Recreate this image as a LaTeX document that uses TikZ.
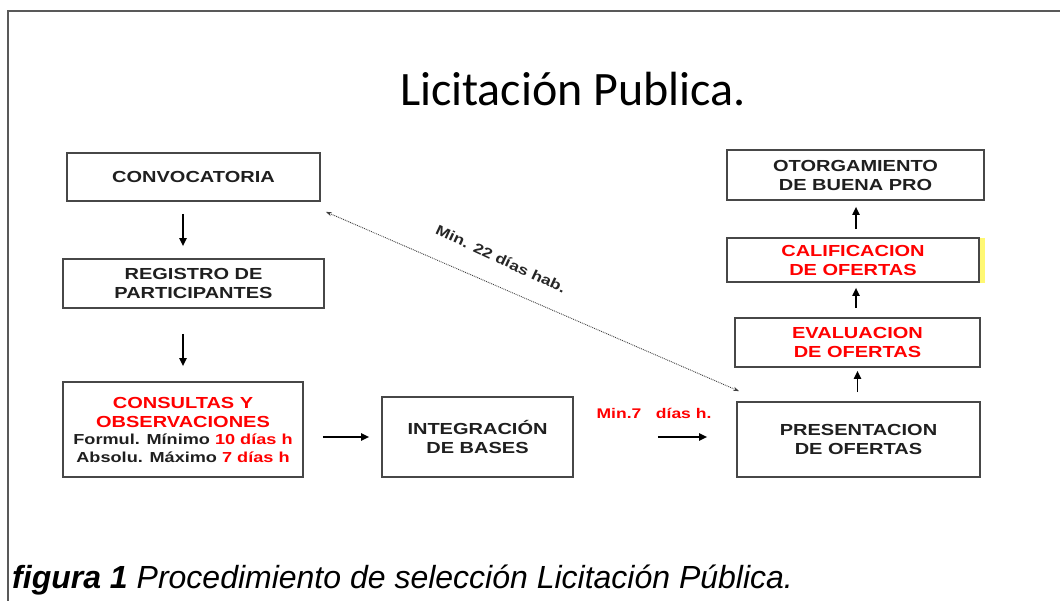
\documentclass[tikz,border=0pt]{standalone}
\usepackage{fontspec}
\setmainfont{Liberation Sans}
\newfontfamily\boxfont[FakeStretch=1.25]{Liberation Sans}
\newfontfamily\titlefont{Carlito}
\usetikzlibrary{arrows.meta}
\definecolor{boxred}{RGB}{255,0,0}
\begin{document}
\begin{tikzpicture}[x=1pt,y=-1pt,
  box/.style={draw=black!72, line width=1.6pt, inner sep=0pt, align=center,
    font=\boxfont\bfseries\fontsize{16}{19}\selectfont, text=black!88},
  arr/.style={-{Triangle[length=8pt,width=7pt]}, line width=1.8pt, black},
  dotarr/.style={{Stealth[length=6pt,width=4pt]}-{Stealth[length=6pt,width=4pt]}, densely dotted, line width=0.9pt, black!75},
  redlbl/.style={font=\boxfont\bfseries\fontsize{14}{16}\selectfont, text=boxred},
  darklbl/.style={font=\boxfont\bfseries\fontsize{14}{16}\selectfont, text=black!85}
]
\useasboundingbox (0,0) rectangle (1060,601);
\draw[black!65, line width=1.2pt] (1060,11) -- (8,11) -- (8,601);

\node[font=\titlefont\fontsize{48}{54}\selectfont, anchor=base] (title) at (573,106) {Licitación Publica.};

\node[box, minimum width=253pt, minimum height=48pt] (conv) at (193.5,177) {CONVOCATORIA};
\node[box, minimum width=261pt, minimum height=49pt] (reg) at (193.5,283.5) {REGISTRO DE\\PARTICIPANTES};
\node[box, minimum width=240pt, minimum height=95pt] (cons) at (183,429.5) {\textcolor{boxred}{CONSULTAS Y}\\
\textcolor{boxred}{OBSERVACIONES}\\[-2pt]
{\fontsize{14.5}{16}\selectfont Formul. Mínimo \textcolor{boxred}{10 días h}}\\[-1pt]
{\fontsize{14.5}{16}\selectfont Absolu. Máximo \textcolor{boxred}{7 días h}}};
\node[box, minimum width=191pt, minimum height=80pt] (integ) at (477.5,437) {INTEGRACIÓN\\DE BASES};
\node[box, minimum width=243pt, minimum height=75pt] (pres) at (858.5,439.5) {PRESENTACION\\DE OFERTAS};
\node[box, minimum width=245pt, minimum height=49pt, text=boxred] (eval) at (857.5,342.5) {EVALUACION\\DE OFERTAS};
\fill[yellow!55] (979,238) rectangle (985,283);
\node[box, minimum width=252pt, minimum height=44pt, text=boxred] (calif) at (853,260) {CALIFICACION\\DE OFERTAS};
\node[box, minimum width=257pt, minimum height=50pt] (otorg) at (855.5,175) {OTORGAMIENTO\\DE BUENA PRO};

% arrows
\draw[arr, shorten <=12pt, shorten >=12pt] (conv.south -| cons.north) -- (reg.north -| cons.north);
\draw[arr, shorten <=25pt, shorten >=15pt] (reg.south -| cons.north) -- (cons.north);
\draw[arr, shorten <=19pt, shorten >=12pt] (cons.east |- integ.west) -- (integ.west);
\draw[arr, shorten <=84pt, shorten >=29pt] (integ.east) -- (integ.east -| pres.west);
\node[redlbl] (lbl7) at (654,413) {Min.7\ \ \ días h.};
\draw[arr, shorten <=9pt, shorten >=3pt] (pres.north -| eval.south) -- (eval.south);
\draw[arr, shorten <=9pt, shorten >=5pt] (eval.north -| 856,0) -- (calif.south -| 856,0);
\draw[arr, shorten <=8pt, shorten >=6pt] (calif.north -| 856,0) -- (otorg.south -| 856,0);

\draw[dotarr] ([xshift=5pt,yshift=-10pt]conv.south east) -- ([xshift=3pt,yshift=10pt]pres.north west);
\node[darklbl, rotate=-25] (lbl22) at (501,259) {Min. 22 días hab.};

\node[font=\fontsize{32}{36}\selectfont\itshape, anchor=base west, inner sep=0pt] (cap) at (12,588) {\textbf{figura 1} Procedimiento de selección Licitación Pública.};
\end{tikzpicture}
\end{document}
